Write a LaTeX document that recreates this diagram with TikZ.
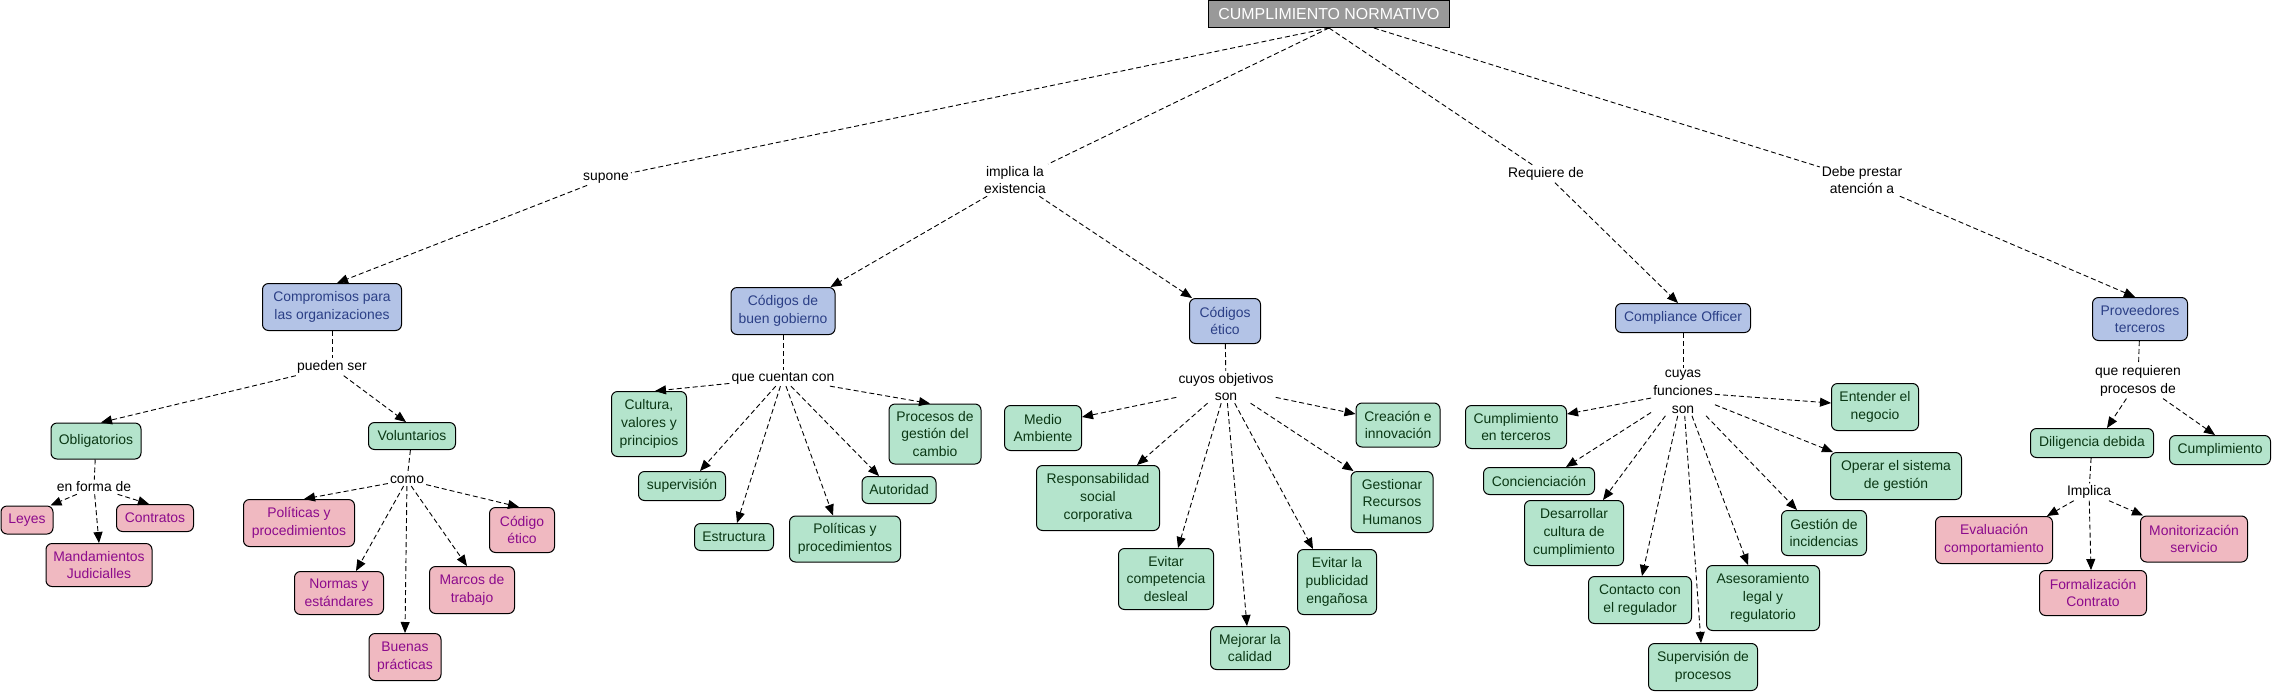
\documentclass[tikz,border=0pt]{standalone}
\usepackage{fontspec}
\setmainfont{Liberation Sans}
\usetikzlibrary{arrows.meta}
\definecolor{bfill}{RGB}{179,195,230}
\definecolor{btext}{RGB}{43,63,134}
\definecolor{gfill}{RGB}{180,228,204}
\definecolor{gtext}{RGB}{10,55,20}
\definecolor{pfill}{RGB}{240,185,193}
\definecolor{ptext}{RGB}{140,10,140}
\definecolor{rfill}{RGB}{153,153,153}
\begin{document}
\begin{tikzpicture}[x=1pt,y=-1pt,
 every node/.style={font=\fontsize{13.9pt}{17.8pt}\selectfont, align=center, inner sep=0pt},
 cbox/.style={draw=black, line width=1pt, rounded corners=6pt},
 bluebox/.style={cbox, fill=bfill, text=btext},
 greenbox/.style={cbox, fill=gfill, text=gtext},
 pinkbox/.style={cbox, fill=pfill, text=ptext},
 rootbox/.style={draw=black, line width=1pt, fill=rfill, text=white, font=\fontsize{15.9pt}{18pt}\selectfont},
 lbl/.style={inner sep=2pt, text=black},
 link/.style={draw=black, line width=0.9pt, dash pattern=on 5pt off 3pt},
 arr/.style={link, -{Triangle[length=11pt,width=9pt]}},
]
\useasboundingbox (0,0) rectangle (2274,694);

% root
\node[rootbox, minimum width=241pt, minimum height=27pt] (root) at (1329,14) {CUMPLIMIENTO NORMATIVO};

% level-1 labels
\node[lbl] (supone) at (606,178) {supone};
\node[lbl] (implica) at (1015,180) {implica la\\existencia};
\node[lbl] (requiere) at (1546,174) {Requiere de};
\node[lbl] (debe) at (1862,180) {Debe prestar\\atención a};

% level-1 concepts
\node[bluebox, minimum width=139pt, minimum height=47pt] (comp) at (332,307) {Compromisos para\\las organizaciones};
\node[bluebox, minimum width=104pt, minimum height=47pt] (cbg) at (783,311) {Códigos de\\buen gobierno};
\node[bluebox, minimum width=71pt, minimum height=45pt] (cet) at (1225,321) {Códigos\\ético};
\node[bluebox, minimum width=135pt, minimum height=29pt] (co) at (1683,318) {Compliance Officer};
\node[bluebox, minimum width=95pt, minimum height=43pt] (prov) at (2140,319) {Proveedores\\terceros};

% Compromisos branch
\node[lbl] (pueden) at (332,367) {pueden ser};
\node[greenbox, minimum width=90pt, minimum height=36pt] (obl) at (96,441) {Obligatorios};
\node[greenbox, minimum width=87pt, minimum height=27pt] (vol) at (412,436) {Voluntarios};
\node[lbl] (enforma) at (94,487) {en forma de};
\node[pinkbox, minimum width=52pt, minimum height=28pt] (leyes) at (27,520) {Leyes};
\node[pinkbox, minimum width=77pt, minimum height=27pt] (contratos) at (155,518) {Contratos};
\node[pinkbox, minimum width=106pt, minimum height=43pt] (mand) at (99,565) {Mandamientos\\Judicialles};
\node[lbl] (como) at (407,480) {como};
\node[pinkbox, minimum width=111pt, minimum height=47pt] (polp) at (299,523) {Políticas y\\procedimientos};
\node[pinkbox, minimum width=65pt, minimum height=45pt] (codet) at (522,530) {Código\\ético};
\node[pinkbox, minimum width=89pt, minimum height=43pt] (normas) at (339,593) {Normas y\\estándares};
\node[pinkbox, minimum width=85pt, minimum height=47pt] (marcos) at (472,590) {Marcos de\\trabajo};
\node[pinkbox, minimum width=72pt, minimum height=47pt] (buenas) at (405,657) {Buenas\\prácticas};

% Codigos de buen gobierno branch
\node[lbl] (cuentan) at (783,378) {que cuentan con};
\node[greenbox, minimum width=75pt, minimum height=65pt] (cult) at (649,424) {Cultura,\\valores y\\principios};
\node[greenbox, minimum width=87pt, minimum height=29pt] (superv) at (682,486) {supervisión};
\node[greenbox, minimum width=79pt, minimum height=27pt] (estr) at (734,537) {Estructura};
\node[greenbox, minimum width=111pt, minimum height=46pt] (polg) at (845,539) {Políticas y\\procedimientos};
\node[greenbox, minimum width=74pt, minimum height=27pt] (auto) at (899,490) {Autoridad};
\node[greenbox, minimum width=92pt, minimum height=60pt] (proc) at (935,434) {Procesos de\\gestión del\\cambio};

% Codigos etico branch
\node[lbl] (objetivos) at (1226,387) {cuyos objetivos\\son};
\node[greenbox, minimum width=77pt, minimum height=45pt] (medio) at (1043,428) {Medio\\Ambiente};
\node[greenbox, minimum width=123pt, minimum height=65pt] (resp) at (1098,498) {Responsabilidad\\social\\corporativa};
\node[greenbox, minimum width=95pt, minimum height=61pt] (evcomp) at (1166,579) {Evitar\\competencia\\desleal};
\node[greenbox, minimum width=79pt, minimum height=43pt] (mejorar) at (1250,648) {Mejorar la\\calidad};
\node[greenbox, minimum width=79pt, minimum height=65pt] (evpub) at (1337,582) {Evitar la\\publicidad\\engañosa};
\node[greenbox, minimum width=82pt, minimum height=61pt] (gest) at (1392,502) {Gestionar\\Recursos\\Humanos};
\node[greenbox, minimum width=84pt, minimum height=44pt] (crea) at (1398,425) {Creación e\\innovación};

% Compliance Officer branch
\node[lbl] (funciones) at (1683,392) {cuyas\\funciones\\son};
\node[greenbox, minimum width=101pt, minimum height=43pt] (cumpter) at (1516,427) {Cumplimiento\\en terceros};
\node[greenbox, minimum width=111pt, minimum height=27pt] (conc) at (1539,481) {Concienciación};
\node[greenbox, minimum width=99pt, minimum height=65pt] (desa) at (1574,533) {Desarrollar\\cultura de\\cumplimiento};
\node[greenbox, minimum width=103pt, minimum height=47pt] (cont) at (1640,600) {Contacto con\\el regulador};
\node[greenbox, minimum width=109pt, minimum height=47pt] (supproc) at (1703,667) {Supervisión de\\procesos};
\node[greenbox, minimum width=113pt, minimum height=65pt] (ases) at (1763,598) {Asesoramiento\\legal y\\regulatorio};
\node[greenbox, minimum width=85pt, minimum height=45pt] (gesinc) at (1824,533) {Gestión de\\incidencias};
\node[greenbox, minimum width=87pt, minimum height=47pt] (ent) at (1875,407) {Entender el\\negocio};
\node[greenbox, minimum width=131pt, minimum height=47pt] (oper) at (1896,476) {Operar el sistema\\de gestión};

% Proveedores branch
\node[lbl] (requieren) at (2138,381) {que requieren\\procesos de};
\node[greenbox, minimum width=123pt, minimum height=29pt] (dil) at (2092,443) {Diligencia debida};
\node[greenbox, minimum width=101pt, minimum height=29pt] (cumpl) at (2220,450) {Cumplimiento};
\node[lbl] (implica2) at (2089,492) {Implica};
\node[pinkbox, minimum width=117pt, minimum height=47pt] (evalc) at (1994,540) {Evaluación\\comportamiento};
\node[pinkbox, minimum width=107pt, minimum height=45pt] (form) at (2093,593) {Formalización\\Contrato};
\node[pinkbox, minimum width=107pt, minimum height=46pt] (monit) at (2194,539) {Monitorización\\servicio};

% connectors: root
\draw[link] (root.south) -- (supone);
\draw[arr] (supone) -- ([xshift=5pt]comp.north);
\draw[link] (root.south) -- (implica);
\draw[arr] (implica) -- ([xshift=-5pt]cbg.north east);
\draw[arr] (implica) -- ([xshift=3pt]cet.north west);
\draw[link] (root.south) -- (requiere);
\draw[arr] (requiere) -- ([xshift=-5pt]co.north);
\draw[link] (root) -- (debe);
\draw[arr] (debe) -- ([xshift=-5pt]prov.north);

% Compromisos
\draw[link] (comp) -- (pueden);
\draw[arr] (pueden) -- ([xshift=5pt]obl.north);
\draw[arr] (pueden) -- ([xshift=-6pt]vol.north);
\draw[link] (obl) -- (enforma);
\draw[arr] (enforma) -- ([xshift=-3pt]leyes.north east);
\draw[arr] (enforma) -- ([xshift=-6pt]contratos.north);
\draw[arr] (enforma) -- (mand.north);
\draw[link] (vol) -- (como);
\draw[arr] (como) -- ([xshift=5pt]polp.north);
\draw[arr] (como) -- ([xshift=17pt]normas.north);
\draw[arr] (como) -- (buenas.north);
\draw[arr] (como) -- ([xshift=-5pt]marcos.north);
\draw[arr] (como) -- ([xshift=-3pt]codet.north);

% Codigos de buen gobierno
\draw[link] (cbg) -- (cuentan);
\draw[arr] (cuentan) -- ([xshift=6pt]cult.north);
\draw[arr] (cuentan) -- ([xshift=18pt]superv.north);
\draw[arr] (cuentan) -- ([xshift=3pt]estr.north);
\draw[arr] (cuentan) -- ([xshift=-12pt]polg.north);
\draw[arr] (cuentan) -- ([xshift=-20pt]auto.north);
\draw[arr] (cuentan) -- ([xshift=-5pt]proc.north);

% Codigos etico
\draw[link] (cet) -- (objetivos);
\draw[arr] (objetivos) -- ([yshift=11pt]medio.east);
\draw[arr] (objetivos) -- ([xshift=39pt]resp.north);
\draw[arr] (objetivos) -- ([xshift=12pt]evcomp.north);
\draw[arr] (objetivos) -- ([xshift=-3pt]mejorar.north);
\draw[arr] (objetivos) -- ([xshift=-24pt]evpub.north);
\draw[arr] (objetivos) -- ([xshift=3pt]gest.north west);
\draw[arr] (objetivos) -- ([yshift=11pt]crea.west);

% Compliance Officer
\draw[link] (co) -- (funciones);
\draw[arr] (funciones) -- ([yshift=13pt]cumpter.east);
\draw[arr] (funciones) -- ([xshift=27pt]conc.north);
\draw[arr] (funciones) -- ([xshift=29pt]desa.north);
\draw[arr] (funciones) -- ([xshift=2pt]cont.north);
\draw[arr] (funciones) -- ([xshift=-2pt]supproc.north);
\draw[arr] (funciones) -- ([xshift=-15pt]ases.north);
\draw[arr] (funciones) -- ([xshift=-27pt]gesinc.north);
\draw[arr] (funciones) -- ([xshift=3pt]oper.north west);
\draw[arr] (funciones) -- ([yshift=4pt]ent.west);

% Proveedores
\draw[link] (prov) -- (requieren);
\draw[arr] (requieren) -- ([xshift=15pt]dil.north);
\draw[arr] (requieren) -- ([xshift=-5pt]cumpl.north);
\draw[link] (dil) -- (implica2);
\draw[arr] (implica2) -- ([xshift=-6pt]evalc.north east);
\draw[arr] (implica2) -- ([xshift=-2pt]form.north);
\draw[arr] (implica2) -- ([xshift=3pt]monit.north west);
\end{tikzpicture}
\end{document}
